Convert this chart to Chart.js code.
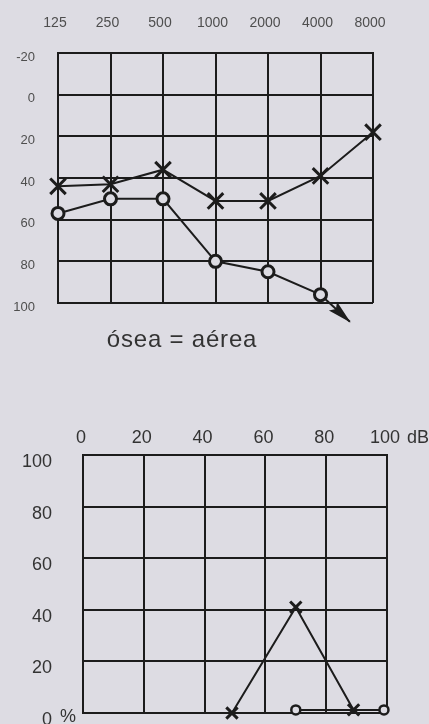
<!DOCTYPE html>
<html>
<head>
<meta charset="utf-8">
<script src="https://cdn.jsdelivr.net/npm/chart.js@4"></script>
<style>
  html, body { margin: 0; padding: 0; background: #dddce3; }
  body { width: 429px; height: 724px; position: relative; overflow: hidden;
         font-family: "Liberation Sans", Arial, sans-serif; }
  #audio  { position: absolute; left: 0; top: 0; }
  #speech { position: absolute; left: 0; top: 360px; }
  #caption { position: absolute; left: 0; width: 364px; top: 327px; text-align: center;
             font-size: 24px; line-height: 24px; color: #333; letter-spacing: 0.8px; }
</style>
</head>
<body>
<canvas id="audio" width="429" height="360"></canvas>
<div id="caption">ósea = aérea</div>
<canvas id="speech" width="429" height="364"></canvas>
<script>
// Tonal audiogram (dB HL per frequency)
const frequencies = ['125', '250', '500', '1000', '2000', '4000', '8000'];
const crossThresholds = [44, 43, 36, 51, 51, 39, 18];
const circleThresholds = [57, 50, 50, 80, 85, 96];
// no-response arrow leaving the 4000 Hz point (frequency index, dB)
const arrowFrom = [5, 96];
const arrowTo = [5.56, 109];

// Speech audiometry (intensity dB vs. % discrimination)
const crossSpeechDb  = [49, 70, 89];
const crossSpeechPct = [0, 41, 1.2];
const circleSpeechDb  = [70, 99];
const circleSpeechPct = [1.2, 1.2];

const INK = '#1c1c1c';
const PAPER = '#dddce3';
const FONT = '"Liberation Sans", Arial, sans-serif';

const toPoints = (xs, ys) => xs.map((x, i) => ({ x, y: ys[i] }));

// fixed axis sizes, without the extra label padding the layout would reserve
const fixWidth = w => s => { s.width = w; s.paddingTop = 0; s.paddingBottom = 0; };
const fixHeight = h => s => { s.height = h; s.paddingLeft = 0; s.paddingRight = 0; };

// filled arrowhead at the end of datasets flagged with `arrow`
const arrowHead = {
  id: 'arrowHead',
  afterDatasetsDraw(chart) {
    chart.data.datasets.forEach((ds, i) => {
      if (!ds.arrow) return;
      const pts = chart.getDatasetMeta(i).data;
      const a = pts[pts.length - 2], b = pts[pts.length - 1];
      const ang = Math.atan2(b.y - a.y, b.x - a.x);
      const ctx = chart.ctx;
      ctx.save();
      ctx.translate(b.x, b.y);
      ctx.rotate(ang);
      ctx.beginPath();
      ctx.moveTo(1, 0);
      ctx.lineTo(-23, -6);
      ctx.lineTo(-19, 0);
      ctx.lineTo(-23, 6);
      ctx.closePath();
      ctx.fillStyle = ds.borderColor;
      ctx.fill();
      ctx.restore();
    });
  }
};

const gridOpts = { color: INK, lineWidth: 2, drawTicks: false };
const borderOpts = { color: INK, width: 2 };

new Chart(document.getElementById('audio'), {
  type: 'scatter',
  data: {
    datasets: [
      {
        data: toPoints(frequencies.map((_, i) => i), crossThresholds),
        showLine: true, borderColor: INK, borderWidth: 2,
        pointStyle: 'crossRot', pointRadius: 11, pointBorderWidth: 3,
        pointBorderColor: INK, clip: false
      },
      {
        data: toPoints(circleThresholds.map((_, i) => i), circleThresholds),
        showLine: true, borderColor: INK, borderWidth: 2,
        pointStyle: 'circle', pointRadius: 6, pointBorderWidth: 3,
        pointBorderColor: INK, pointBackgroundColor: PAPER, clip: false
      },
      {
        data: [{ x: arrowFrom[0], y: arrowFrom[1] }, { x: arrowTo[0], y: arrowTo[1] }],
        showLine: true, borderColor: INK, borderWidth: 2, pointRadius: 0,
        arrow: true, clip: false
      }
    ]
  },
  options: {
    responsive: false, animation: false,
    layout: { padding: { left: 0, right: 56, top: 0, bottom: 57 } },
    plugins: { legend: { display: false }, tooltip: { enabled: false } },
    scales: {
      x: {
        type: 'linear', position: 'top', min: 0, max: 6,
        grid: gridOpts, border: borderOpts,
        afterFit: fixHeight(53),
        ticks: {
          stepSize: 1, padding: 21, labelOffset: -3,
          color: '#4e4e4e', font: { family: FONT, size: 14 },
          callback: v => frequencies[v]
        }
      },
      y: {
        type: 'linear', reverse: true, min: -20, max: 100,
        grid: gridOpts, border: borderOpts,
        afterFit: fixWidth(58),
        ticks: {
          stepSize: 20, padding: 23, labelOffset: 4,
          color: '#4e4e4e', font: { family: FONT, size: 13 }
        }
      }
    }
  },
  plugins: [arrowHead]
});

// unit texts of the speech chart: "dB" after the top scale, "%" after the zero
const speechUnits = {
  id: 'speechUnits',
  afterDraw(chart) {
    const ctx = chart.ctx;
    const xs = chart.scales.x, ys = chart.scales.y;
    ctx.save();
    ctx.fillStyle = '#333';
    ctx.font = '18px ' + FONT;
    ctx.textAlign = 'left';
    ctx.textBaseline = 'middle';
    ctx.fillText('dB', xs.getPixelForValue(100) + 20, chart.chartArea.top - 17);
    ctx.fillText('%', chart.chartArea.left - 23, ys.getPixelForValue(0) + 4);
    ctx.restore();
  }
};

new Chart(document.getElementById('speech'), {
  type: 'scatter',
  data: {
    datasets: [
      {
        data: toPoints(crossSpeechDb, crossSpeechPct),
        showLine: true, borderColor: INK, borderWidth: 2,
        pointStyle: 'crossRot', pointRadius: 8, pointBorderWidth: 3,
        pointBorderColor: INK, clip: false
      },
      {
        data: toPoints(circleSpeechDb, circleSpeechPct),
        showLine: true, borderColor: INK, borderWidth: 2,
        pointStyle: 'circle', pointRadius: 4.5, pointBorderWidth: 2.5,
        pointBorderColor: INK, pointBackgroundColor: PAPER, clip: false
      }
    ]
  },
  options: {
    responsive: false, animation: false,
    layout: { padding: { left: 0, right: 42, top: 0, bottom: 11 } },
    plugins: { legend: { display: false }, tooltip: { enabled: false } },
    scales: {
      x: {
        type: 'linear', position: 'top', min: 0, max: 100,
        grid: gridOpts, border: borderOpts,
        afterFit: fixHeight(95),
        ticks: {
          stepSize: 20, padding: 6, labelOffset: -2,
          color: '#333', font: { family: FONT, size: 18 }
        }
      },
      y: {
        type: 'linear', min: 0, max: 100,
        grid: gridOpts, border: borderOpts,
        afterFit: fixWidth(83),
        ticks: {
          stepSize: 20, padding: 31, labelOffset: 7,
          color: '#333', font: { family: FONT, size: 18 }
        }
      }
    }
  },
  plugins: [speechUnits]
});
</script>
</body>
</html>
